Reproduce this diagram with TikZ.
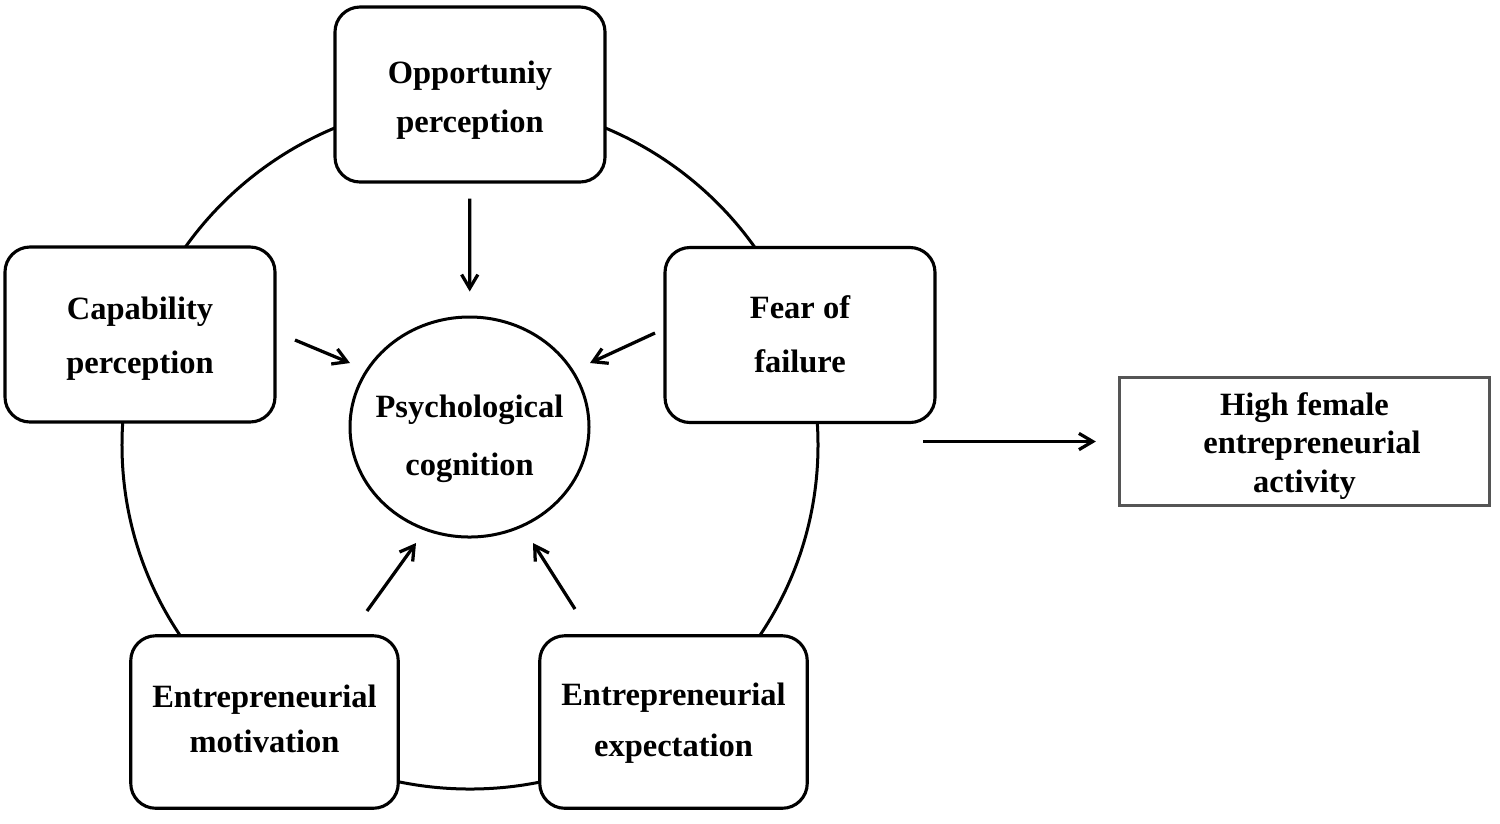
\documentclass[tikz,border=0pt]{standalone}
\usepackage{fontspec}
\setmainfont{Liberation Serif}
\usetikzlibrary{shapes.geometric,arrows.meta}
\definecolor{boxgray}{RGB}{85,85,85}
\tikzset{
  rbox/.style={draw, line width=1.25pt, rounded corners=10pt, fill=white,
    minimum width=108pt, minimum height=70pt, inner sep=0pt, align=center},
  rboxsmall/.style={rbox, minimum width=107pt, minimum height=69pt},
  ring/.style={draw, line width=1.2pt, ellipse, inner sep=0pt},
  arr/.style={-{Straight Barb[length=5.5pt,width=6.5pt,line width=1.3pt]}, line width=1.3pt},
}
\newcommand{\bfs}[1]{\bfseries\fontsize{13}{#1}\selectfont}
\begin{document}
\begin{tikzpicture}[x=0.4pt,y=-0.4pt]
\fill[white] (0,0) rectangle (1500,823);
\useasboundingbox (0,0) rectangle (1500,823);
% big ring
\node[ring, minimum width=278.4pt, minimum height=275.2pt] (bigring) at (470,445) {};
% boxes
\node[rbox, font=\bfs{19.6pt}] (opp) at (470,94.5)
  {\rule{0pt}{13.6pt}Opportuniy\\perception\rule[-3.2pt]{0pt}{3.2pt}};
\node[rbox, font=\bfs{21.6pt}] (cap) at (140,334.5)
  {\rule{0pt}{12.4pt}Capability\\perception\rule[-3.2pt]{0pt}{3.2pt}};
\node[rbox, font=\bfs{21.6pt}] (fear) at (800,335)
  {\rule{0pt}{11.2pt}Fear of\\failure\rule[-3.2pt]{0pt}{3.2pt}};
\node[rboxsmall, font=\bfs{18pt}] (mot) at (264.5,722)
  {\rule{0pt}{9.2pt}Entrepreneurial\\motivation\rule[-3.2pt]{0pt}{3.2pt}};
\node[rboxsmall, font=\bfs{20.4pt}] (exp) at (673.5,722)
  {\rule{0pt}{10pt}Entrepreneurial\\expectation\rule[-3.2pt]{0pt}{3.2pt}};
% center ellipse
\node[ring, fill=white, minimum width=95.6pt, minimum height=88pt, align=center, font=\bfs{23.2pt}] (psy) at (469.5,427)
  {\rule{0pt}{18.4pt}\makebox[0pt]{Psychological}\\\makebox[0pt]{cognition}\rule[-3.2pt]{0pt}{3.2pt}};
% outcome box
\node[draw=boxgray, line width=1.3pt, fill=white, minimum width=148pt, minimum height=51.2pt, inner sep=0pt, align=center, font=\bfs{15.4pt}] (hfa) at (1304.5,441.5)
  {\rule{0pt}{12.8pt}High female\\\hspace*{6pt}entrepreneurial\\activity\rule[-3.2pt]{0pt}{3.2pt}};
% arrow end points
\coordinate (capA) at (295,340);
\coordinate (capB) at (350,363);
\coordinate (fearA) at (655,333);
\coordinate (fearB) at (590,363);
\coordinate (motA) at (367,611);
\coordinate (motB) at (416,543);
\coordinate (expA) at (575,609);
\coordinate (expB) at (533,543);
\coordinate (outA) at (923,441.5);
% arrows
\draw[arr, shorten <=6pt, shorten >=9.6pt] (opp) -- (psy);
\draw[arr] (capA) -- (capB);
\draw[arr] (fearA) -- (fearB);
\draw[arr] (motA) -- (motB);
\draw[arr] (expA) -- (expB);
\draw[arr, shorten >=8.8pt] (outA) -- (hfa.west);
\end{tikzpicture}
\end{document}
